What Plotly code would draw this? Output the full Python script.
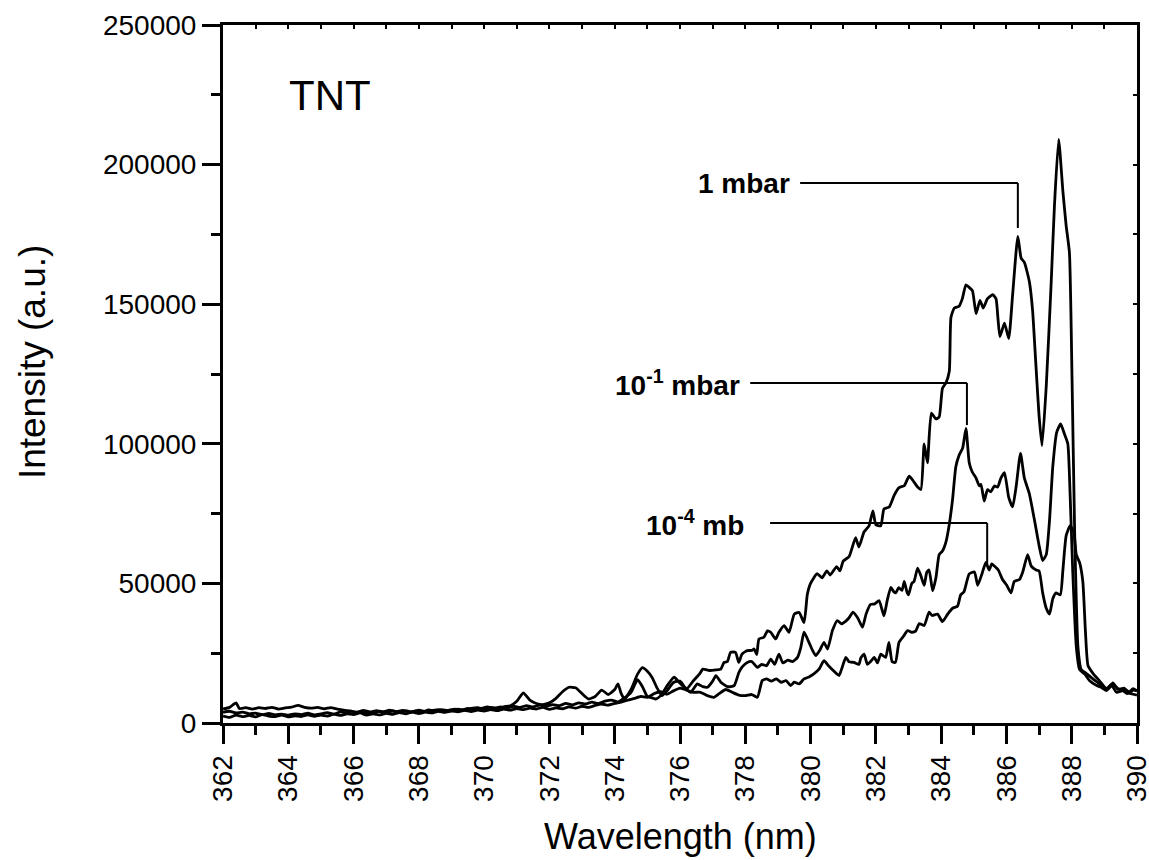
import plotly.graph_objects as go

# ---------------- data ----------------
wl_1mbar = [362.0, 362.2, 362.4, 362.6, 362.8, 363.0, 363.2, 363.4, 363.6, 363.8, 364.0, 364.2, 364.4, 364.6, 364.8,
            365.0, 365.2, 365.4, 365.6, 365.8, 366.0, 366.2, 366.4, 366.6, 366.8, 367.0, 367.2, 367.4, 367.6, 367.8,
            368.0, 368.2, 368.4, 368.6, 368.8, 369.0, 369.2, 369.4, 369.6, 369.8, 370.0, 370.2, 370.4, 370.6, 370.8,
            371.0, 371.2, 371.4, 371.6, 371.8, 372.0, 372.2, 372.4, 372.6, 372.8, 373.0, 373.2, 373.4, 373.6, 373.8,
            374.0, 374.1, 374.2, 374.3, 374.5, 374.7, 374.85, 375.0, 375.15, 375.3, 375.45, 375.6, 375.8, 376.0,
            376.2, 376.4, 376.6, 376.7, 376.9, 377.1, 377.25, 377.35, 377.45, 377.55, 377.7, 377.8, 377.9, 378.06,
            378.2, 378.27, 378.35, 378.42, 378.57, 378.68, 378.78, 378.93, 379.03, 379.19, 379.34, 379.5, 379.65,
            379.8, 379.9, 380.0, 380.2, 380.35, 380.5, 380.6, 380.8, 380.9, 381.0, 381.18, 381.38, 381.48, 381.64,
            381.79, 381.91, 382.0, 382.15, 382.25, 382.41, 382.56, 382.71, 382.87, 383.02, 383.17, 383.28, 383.38,
            383.48, 383.58, 383.7, 383.84, 383.94, 384.04, 384.15, 384.25, 384.3, 384.4, 384.55, 384.65, 384.76,
            384.86, 384.96, 385.07, 385.19, 385.29, 385.42, 385.58, 385.68, 385.74, 385.8, 385.94, 386.07, 386.19,
            386.35, 386.45, 386.55, 386.7, 386.8, 386.9, 387.0, 387.09, 387.22, 387.37, 387.47, 387.6, 387.73,
            387.83, 387.93, 388.01, 388.09, 388.19, 388.29, 388.44, 388.65, 388.8, 388.96, 389.1, 389.26, 389.4,
            389.57, 389.7, 389.88, 390.0]
int_1mbar = [3800, 4200, 3600, 3900, 3300, 3500, 3000, 3400, 2900, 3200, 2800, 3300, 3000, 3500, 2900,
             3300, 3700, 3200, 4000, 3600, 3300, 3900, 3400, 3700, 4200, 3800, 4300, 3900, 4400, 4000,
             4600, 4100, 4500, 4800, 4300, 4700, 5000, 4600, 5200, 5500, 5000, 5600, 5200, 5800, 6200,
             7800, 10800, 8200, 7000, 6600, 7200, 8800, 11200, 12800, 12600, 10500, 8600, 9500, 11800, 10200,
             12000, 14000, 10500, 8600, 12000, 17500, 19800, 18500, 16200, 12500, 9800, 11500, 14500, 15000,
             12200, 15000, 17600, 19300, 18800, 19000, 19300, 21700, 22000, 25300, 25300, 21700, 24700, 25900,
             26000, 26500, 24500, 30100, 30700, 33000, 32500, 30100, 32500, 34900, 32500, 39000, 39600,
             36000, 46000, 50000, 53500, 52000, 54500, 53000, 56000, 54500, 58000, 59600, 66400, 63000, 68500,
             70600, 76000, 71000, 70600, 76700, 77400, 81500, 84300, 85000, 88400, 86300, 84500, 83600,
             100000, 93200, 111000, 108900, 109600, 119900, 121900, 126000, 145200, 148600, 149300, 152000, 156900,
             156000, 154800, 146600, 151400, 148600, 152000, 153400, 152000, 145000, 138400, 143200, 137700, 153400,
             174300, 166500, 165000, 158200, 148000, 128800, 110000, 99300, 120600, 157500, 185000, 209000, 190400,
             178100, 168500, 123300, 68500, 27400, 19200, 17800, 15800, 14500, 13000, 12000, 13700, 12500,
             11600, 10500, 12300, 11500]

wl_1e1mbar = [362.0, 362.2, 362.4, 362.5, 362.7, 362.9, 363.1, 363.3, 363.5, 363.7, 363.9, 364.1, 364.3, 364.5,
              364.7, 364.9, 365.1, 365.3, 365.5, 365.7, 365.9, 366.1, 366.3, 366.5, 366.7, 366.9, 367.1, 367.3,
              367.5, 367.7, 367.9, 368.1, 368.3, 368.5, 368.7, 368.9, 369.1, 369.3, 369.5, 369.7, 369.9, 370.1,
              370.3, 370.5, 370.7, 370.9, 371.1, 371.3, 371.5, 371.7, 371.9, 372.1, 372.3, 372.5, 372.7, 372.9,
              373.1, 373.3, 373.5, 373.7, 373.9, 374.1, 374.3, 374.5, 374.7, 374.85, 375.0, 375.15, 375.26, 375.41,
              375.61, 375.82, 375.97, 376.15, 376.33, 376.53, 376.7, 376.84, 377.0, 377.1, 377.25, 377.45, 377.66,
              377.8, 377.9, 378.06, 378.2, 378.37, 378.5, 378.65, 378.78, 378.9, 379.03, 379.15, 379.3, 379.45,
              379.6, 379.7, 379.8, 379.95, 380.06, 380.16, 380.28, 380.41, 380.52, 380.67, 380.82, 380.95, 381.08,
              381.18, 381.3, 381.45, 381.59, 381.7, 381.84, 381.95, 382.1, 382.18, 382.25, 382.35, 382.46, 382.55,
              382.61, 382.7, 382.8, 382.87, 382.95, 383.0, 383.1, 383.17, 383.28, 383.38, 383.48, 383.56, 383.63,
              383.74, 383.84, 383.94, 384.04, 384.15, 384.25, 384.35, 384.45, 384.55, 384.66, 384.76, 384.86,
              384.95, 385.07, 385.17, 385.22, 385.32, 385.42, 385.52, 385.63, 385.73, 385.83, 385.94, 386.07,
              386.19, 386.3, 386.43, 386.55, 386.7, 386.86, 387.01, 387.11, 387.22, 387.32, 387.42, 387.54,
              387.66, 387.78, 387.88, 387.95, 388.03, 388.14, 388.24, 388.4, 388.55, 388.75, 388.9, 389.06,
              389.26, 389.42, 389.6, 389.77, 389.9, 390.0]
int_1e1mbar = [5000, 5600, 7200, 5200, 5500, 5000, 5500, 5200, 5600, 5000, 5400, 5700, 6300, 5600,
               5300, 5600, 5100, 5500, 5000, 4600, 4300, 3900, 4500, 4000, 4400, 4000, 4600, 4100,
               4500, 3800, 4300, 3900, 4700, 4200, 4800, 4400, 5000, 4600, 5200, 4700, 5200, 5800,
               5300, 5800, 5400, 6000, 5600, 6200, 5800, 6400, 6000, 6600, 6200, 7000, 6500, 7200,
               6800, 7500, 7000, 7800, 8200, 7600, 9000, 11000, 15500, 13000, 9500, 9000, 8600, 9800,
               13400, 16400, 14600, 12500, 11000, 14000, 13000, 12800, 15000, 17000, 14600, 13000, 13400,
               18000, 20000, 21700, 22000, 19900, 21000, 20500, 22900, 21000, 24700, 21500, 22500, 22000,
               23500, 27000, 32500, 28900, 26000, 24100, 26000, 28900, 26500, 33100, 36700, 35500, 36500,
               37700, 39700, 37500, 34300, 39000, 42500, 42600, 43800, 41000, 38400, 44000, 48600, 47000,
               46600, 48500, 47500, 50700, 47000, 45900, 50000, 50700, 55500, 52700, 49300, 54000, 54800,
               47300, 52000, 60300, 61600, 65000, 71200, 80100, 91800, 95900, 98500, 105500, 93200,
               90000, 87700, 84900, 85500, 79500, 83600, 82800, 84900, 84500, 87700, 89700, 80800,
               77400, 84900, 96600, 87700, 82200, 72600, 63000, 58200, 60300, 72600, 91800, 104100,
               107100, 103400, 100000, 82200, 54800, 27400, 19200, 17500, 15100, 13500, 12800, 11600,
               14400, 12000, 12500, 11000, 11800, 11500]

wl_1e4mbar = [362.0, 362.2, 362.4, 362.6, 362.8, 363.0, 363.2, 363.4, 363.6, 363.8, 364.0, 364.2, 364.4, 364.6,
              364.8, 365.0, 365.2, 365.4, 365.6, 365.8, 366.0, 366.2, 366.4, 366.6, 366.8, 367.0, 367.2, 367.4,
              367.6, 367.8, 368.0, 368.2, 368.4, 368.6, 368.8, 369.0, 369.2, 369.4, 369.6, 369.8, 370.0, 370.2,
              370.4, 370.6, 370.8, 371.0, 371.2, 371.4, 371.6, 371.8, 372.0, 372.2, 372.4, 372.6, 372.8, 373.0,
              373.2, 373.4, 373.6, 373.8, 374.0, 374.2, 374.4, 374.6, 374.8, 375.0, 375.2, 375.4, 375.6, 375.8,
              376.0, 376.2, 376.4, 376.63, 376.84, 377.04, 377.2, 377.4, 377.6, 377.8, 378.0, 378.2, 378.37,
              378.52, 378.65, 378.8, 378.95, 379.1, 379.25, 379.39, 379.5, 379.65, 379.8, 379.95, 380.1, 380.26,
              380.41, 380.55, 380.72, 380.87, 380.97, 381.08, 381.18, 381.33, 381.48, 381.54, 381.64, 381.74,
              381.84, 381.95, 382.05, 382.15, 382.3, 382.4, 382.5, 382.6, 382.71, 382.86, 382.97, 383.1, 383.22,
              383.33, 383.48, 383.63, 383.72, 383.89, 384.04, 384.2, 384.35, 384.5, 384.6, 384.7, 384.86, 385.02,
              385.12, 385.25, 385.37, 385.47, 385.55, 385.63, 385.75, 385.88, 386.01, 386.14, 386.24, 386.4,
              386.5, 386.65, 386.76, 386.91, 387.0, 387.11, 387.22, 387.32, 387.42, 387.52, 387.65, 387.73,
              387.83, 387.95, 388.06, 388.14, 388.24, 388.34, 388.42, 388.5, 388.65, 388.85, 389.06, 389.21,
              389.37, 389.57, 389.72, 389.88, 390.0]
int_1e4mbar = [2500, 2000, 2800, 2300, 2700, 2200, 3000, 2500, 2300, 2800, 2200, 2600, 2300, 2900,
               2400, 2800, 2500, 3200, 2700, 3300, 3000, 3600, 2800, 3300, 2900, 3500, 3100, 3700,
               3300, 3900, 3400, 3900, 3600, 4200, 3800, 4300, 4000, 4500, 4100, 4600, 4300, 4800,
               4400, 5000, 4600, 5200, 4800, 5300, 5000, 5600, 4900, 5400, 5100, 5800, 5300, 6000,
               5600, 6300, 6800, 6400, 7000, 7500, 8200, 8800, 9500, 9200, 10500, 11200, 10300, 11500,
               12500, 11800, 11000, 11000, 9800, 9200, 10500, 12000, 11000, 10000, 9800, 10200, 9200,
               15200, 15800, 15000, 15800, 14600, 15200, 13400, 14600, 14000, 15800, 16500, 17600, 19300,
               22300, 20500, 18500, 17000, 20000, 23500, 21900, 21700, 21000, 23300, 24700, 21000,
               22000, 23500, 21500, 24700, 23500, 28900, 21900, 21700, 28900, 31300, 33100, 32500, 32900,
               35600, 34900, 39700, 38500, 39000, 36300, 39000, 41100, 41800, 45900, 47000, 53400, 54100,
               49300, 53400, 57500, 54800, 57000, 56200, 54800, 51400, 49300, 46600, 50700, 51400,
               54100, 60300, 56200, 54800, 54500, 46600, 41100, 39000, 44500, 46600, 45900, 54800,
               67100, 70600, 68500, 60300, 57500, 50700, 32900, 20500, 17800, 15100, 12300, 13700,
               11000, 11600, 10800, 10300, 10000]

# annotation labels: text, wavelength of the marked peak, wavelength where the leader starts,
# intensity of the leader level, intensity where the leader ends
label_texts = ["<b>1 mbar</b>", "<b>10<sup>-1</sup> mbar</b>", "<b>10<sup>-4</sup> mb</b>"]
label_peak_wl = [386.35, 384.79, 385.41]
label_start_wl = [379.68, 378.15, 378.76]
label_level = [193400, 121800, 71600]
label_end = [177300, 106700, 56600]
label_gap_px = [-8, -8, -24]

x_ticks_major = list(range(362, 391, 2))

FONT = "Liberation Sans, Arial, sans-serif"

fig = go.Figure()
for wl, inten, name in [(wl_1mbar, int_1mbar, "1 mbar"),
                        (wl_1e1mbar, int_1e1mbar, "1e-1 mbar"),
                        (wl_1e4mbar, int_1e4mbar, "1e-4 mbar")]:
    fig.add_trace(go.Scatter(x=wl, y=inten, mode="lines", name=name,
                             line=dict(color="black", width=2.8, shape="spline", smoothing=0.5),
                             showlegend=False))

# invisible trace to hold the mirrored inside-tick axes
fig.add_trace(go.Scatter(x=[362], y=[0], xaxis="x2", yaxis="y2", mode="markers",
                         marker=dict(opacity=0), showlegend=False, hoverinfo="skip"))

for txt, pk, st, lv, en, gap in zip(label_texts, label_peak_wl, label_start_wl, label_level, label_end,
                                    label_gap_px):
    fig.add_shape(type="line", xref="x", yref="y", x0=st, x1=pk, y0=lv, y1=lv,
                  line=dict(color="black", width=2))
    fig.add_shape(type="line", xref="x", yref="y", x0=pk, x1=pk, y0=lv, y1=en,
                  line=dict(color="black", width=2))
    fig.add_annotation(x=st, y=lv, xref="x", yref="y", text=txt, showarrow=False,
                       xanchor="right", yanchor="middle", xshift=gap,
                       font=dict(family=FONT, size=28, color="black"))

fig.add_annotation(x=365.28, y=224900, xref="x", yref="y", text="TNT", showarrow=False,
                   xanchor="center", yanchor="middle", font=dict(family=FONT, size=42, color="black"))

# axis titles
fig.add_annotation(x=0.501, y=-0.163, xref="paper", yref="paper", text="Wavelength (nm)",
                   showarrow=False, xanchor="center", yanchor="middle",
                   font=dict(family=FONT, size=36, color="black"))
fig.add_annotation(x=-0.209, y=0.517, xref="paper", yref="paper", text="Intensity (a.u.)",
                   showarrow=False, xanchor="center", yanchor="middle", textangle=-90,
                   font=dict(family=FONT, size=37, color="black"))

axis_common = dict(showgrid=False, zeroline=False, showline=True, linecolor="black", linewidth=3,
                   ticks="outside", ticklen=18, tickwidth=3, tickcolor="black", mirror=True,
                   automargin=False, ticklabeloverflow="allow",
                   tickfont=dict(family=FONT, size=28, color="black"))

X_RANGE = [362, 390]
Y_RANGE = [0, 250000]

fig.update_layout(
    width=1149, height=860,
    margin=dict(l=223, r=12, t=25, b=137),
    paper_bgcolor="white", plot_bgcolor="white",
    xaxis=dict(range=X_RANGE, tickvals=x_ticks_major, tickangle=-90,
               minor=dict(dtick=1, tick0=362, ticks="outside", ticklen=9, tickwidth=3, tickcolor="black"),
               **axis_common),
    yaxis=dict(range=Y_RANGE, dtick=50000, tickformat="d",
               minor=dict(dtick=25000, ticks="outside", ticklen=9, tickwidth=3, tickcolor="black"),
               **axis_common),
    xaxis2=dict(overlaying="x", side="top", range=X_RANGE, tick0=362, dtick=1, ticks="inside", ticklen=4,
                tickwidth=2, tickcolor="black", showticklabels=False, showgrid=False, zeroline=False,
                showline=False, automargin=False),
    yaxis2=dict(overlaying="y", side="right", range=Y_RANGE, dtick=25000, ticks="inside", ticklen=4,
                tickwidth=2, tickcolor="black", showticklabels=False, showgrid=False, zeroline=False,
                showline=False, automargin=False),
)

fig.write_html("out.html")
